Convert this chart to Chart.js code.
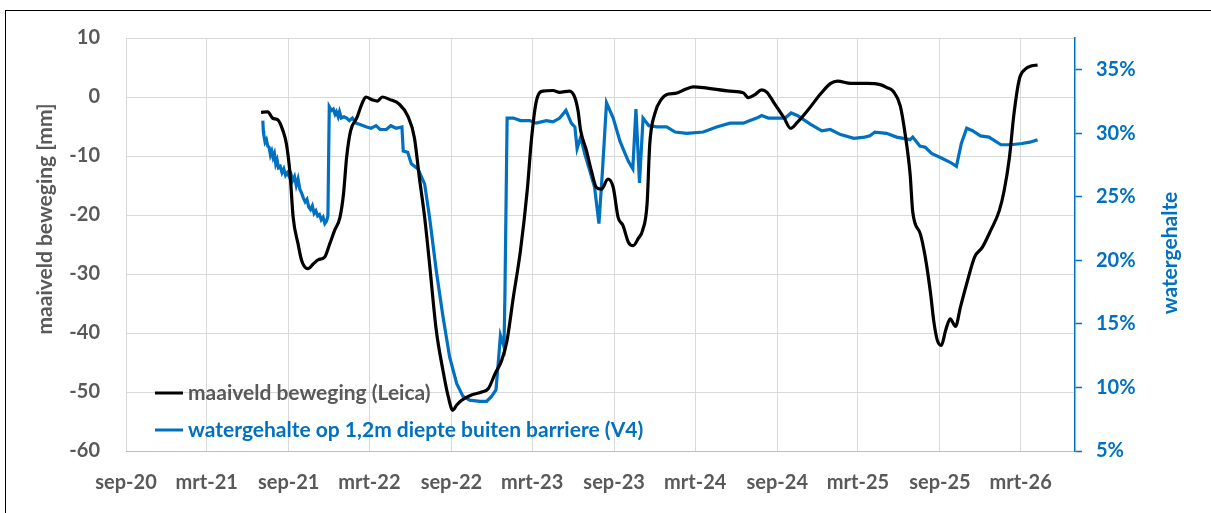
<!DOCTYPE html>
<html>
<head>
<meta charset="utf-8">
<script src="https://cdn.jsdelivr.net/npm/chart.js@4.4.1/dist/chart.umd.min.js"></script>
<style>
    html, body { margin: 0; padding: 0; background: #fff; }
    #wrap { position: relative; width: 1211px; height: 513px; }
</style>
</head>
<body>
<div id="wrap"><canvas id="chart"></canvas></div>
<script>
// x-axis ticks, every 6 months
const tickDates = ['2020-09-01', '2021-03-01', '2021-09-01', '2022-03-01', '2022-09-01', '2023-03-01',
    '2023-09-01', '2024-03-01', '2024-09-01', '2025-03-01', '2025-09-01', '2026-03-01'];
const tickLabels = ['sep-20', 'mrt-21', 'sep-21', 'mrt-22', 'sep-22', 'mrt-23',
    'sep-23', 'mrt-24', 'sep-24', 'mrt-25', 'sep-25', 'mrt-26'];

// maaiveld beweging (Leica) [mm]
const leicaDates = ['2021-07-01', '2021-07-16', '2021-07-27', '2021-08-08', '2021-08-19', '2021-08-27',
    '2021-09-04', '2021-09-11', '2021-09-22', '2021-09-30', '2021-10-14', '2021-10-26', '2021-11-06',
    '2021-11-21', '2021-12-02', '2021-12-13', '2021-12-25', '2022-01-02', '2022-01-09', '2022-01-18',
    '2022-02-01', '2022-02-12', '2022-02-21', '2022-03-08', '2022-03-19', '2022-03-30', '2022-04-15',
    '2022-05-07', '2022-05-26', '2022-06-10', '2022-06-21', '2022-07-03', '2022-07-14', '2022-07-29',
    '2022-08-13', '2022-08-25', '2022-09-04', '2022-09-13', '2022-09-24', '2022-10-16', '2022-11-08',
    '2022-11-23', '2022-12-08', '2022-12-23', '2023-01-04', '2023-01-18', '2023-02-03', '2023-02-18',
    '2023-02-28', '2023-03-10', '2023-03-25', '2023-04-17', '2023-05-02', '2023-05-24', '2023-06-05',
    '2023-06-12', '2023-06-18', '2023-07-01', '2023-07-12', '2023-07-23', '2023-08-04', '2023-08-18',
    '2023-08-30', '2023-09-10', '2023-09-21', '2023-10-03', '2023-10-14', '2023-10-25', '2023-11-04',
    '2023-11-14', '2023-11-20', '2023-12-01', '2023-12-16', '2024-01-01', '2024-01-16', '2024-02-08',
    '2024-02-26', '2024-03-19', '2024-05-18', '2024-06-17', '2024-06-28', '2024-07-13', '2024-07-28',
    '2024-08-09', '2024-08-24', '2024-09-16', '2024-10-01', '2024-10-16', '2024-11-08', '2024-12-07',
    '2024-12-30', '2025-01-14', '2025-02-13', '2025-03-21', '2025-04-20', '2025-05-05', '2025-05-20',
    '2025-06-04', '2025-06-15', '2025-06-26', '2025-07-02', '2025-07-19', '2025-07-30', '2025-08-11',
    '2025-08-18', '2025-08-26', '2025-09-04', '2025-09-14', '2025-09-24', '2025-10-06', '2025-10-17',
    '2025-11-02', '2025-11-18', '2025-12-05', '2025-12-24', '2026-01-12', '2026-01-23', '2026-02-04',
    '2026-02-14', '2026-02-26', '2026-03-11', '2026-03-26', '2026-04-08'];
const leicaValues = [-2.6, -2.5, -3.6, -3.9, -5.7, -8.0,
    -13.0, -20.4, -24.9, -27.7, -29.1, -28.3, -27.6,
    -27.1, -24.9, -22.6, -20.4, -16.4, -10.2, -5.7,
    -3.5, -1.2, 0.0, -0.5, -0.7, 0.0, -0.4,
    -1.2, -3.2, -6.9, -13.6, -20.4, -28.3, -39.5,
    -46.3, -50.8, -53.1, -52.2, -51.4, -50.5, -50.0,
    -49.4, -46.9, -44.6, -41.2, -33.9, -26.0, -15.9,
    -6.9, -0.9, 1.0, 1.1, 0.8, 1.0, -0.1,
    -2.3, -5.7, -9.1, -12.5, -15.3, -15.6, -13.9,
    -15.3, -20.4, -21.8, -24.6, -25.2, -24.0, -22.6,
    -18.1, -8.0, -2.9, -0.4, 0.5, 0.6, 1.3,
    1.7, 1.6, 1.0, 0.7, -0.1, 0.4, 1.2,
    0.8, -0.9, -3.5, -5.3, -4.3, -2.3, 0.5,
    2.3, 2.7, 2.3, 2.3, 2.1, 1.6, 0.9,
    -1.5, -6.3, -13.0, -19.5, -23.2, -27.1, -33.3,
    -37.9, -41.2, -42.1, -39.5, -37.6, -38.9, -35.6,
    -31.1, -27.1, -25.5, -22.6, -19.3, -15.9, -10.2,
    -2.9, 3.0, 4.7, 5.3, 5.4];

// watergehalte op 1,2m diepte buiten barriere (V4) [%]
const waterDates = ['2021-07-05', '2021-07-06', '2021-07-07', '2021-07-10', '2021-07-13', '2021-07-16',
    '2021-07-19', '2021-07-22', '2021-07-25', '2021-07-28', '2021-07-31', '2021-08-03', '2021-08-06',
    '2021-08-09', '2021-08-13', '2021-08-17', '2021-08-21', '2021-08-25', '2021-08-29', '2021-09-02',
    '2021-09-06', '2021-09-10', '2021-09-14', '2021-09-18', '2021-09-22', '2021-09-26', '2021-09-30',
    '2021-10-04', '2021-10-08', '2021-10-12', '2021-10-16', '2021-10-20', '2021-10-24', '2021-10-28',
    '2021-11-01', '2021-11-05', '2021-11-09', '2021-11-13', '2021-11-17', '2021-11-21', '2021-11-25',
    '2021-11-28', '2021-12-01', '2021-12-06', '2021-12-10', '2021-12-14', '2021-12-17', '2021-12-21',
    '2021-12-24', '2021-12-28', '2022-01-03', '2022-01-09', '2022-01-15', '2022-01-22', '2022-01-30',
    '2022-02-08', '2022-02-23', '2022-03-05', '2022-03-16', '2022-03-25', '2022-04-08', '2022-04-18',
    '2022-04-30', '2022-05-13', '2022-05-16', '2022-05-26', '2022-06-03', '2022-06-18', '2022-07-03',
    '2022-07-14', '2022-07-29', '2022-08-13', '2022-08-28', '2022-09-13', '2022-09-27', '2022-10-12',
    '2022-11-04', '2022-11-19', '2022-11-30', '2022-12-10', '2022-12-15', '2022-12-20', '2022-12-28',
    '2022-12-30', '2023-01-04', '2023-01-18', '2023-02-03', '2023-02-24', '2023-03-10', '2023-04-02',
    '2023-04-17', '2023-05-02', '2023-05-16', '2023-05-28', '2023-06-05', '2023-06-10', '2023-06-18',
    '2023-06-27', '2023-07-08', '2023-07-19', '2023-07-29', '2023-08-06', '2023-08-15', '2023-08-30',
    '2023-09-14', '2023-09-21', '2023-10-03', '2023-10-13', '2023-10-20', '2023-10-28', '2023-11-05',
    '2023-11-18', '2023-12-06', '2023-12-28', '2024-01-16', '2024-02-11', '2024-03-19', '2024-04-18',
    '2024-05-18', '2024-06-17', '2024-07-02', '2024-07-17', '2024-07-28', '2024-08-12', '2024-09-19',
    '2024-10-02', '2024-10-16', '2024-11-15', '2024-12-10', '2024-12-29', '2025-01-21', '2025-02-20',
    '2025-03-16', '2025-03-28', '2025-04-08', '2025-05-04', '2025-05-27', '2025-06-26', '2025-07-02',
    '2025-07-18', '2025-07-30', '2025-08-14', '2025-09-02', '2025-09-25', '2025-10-08', '2025-10-19',
    '2025-10-31', '2025-11-13', '2025-12-01', '2025-12-20', '2026-01-16', '2026-02-07', '2026-03-04',
    '2026-03-22', '2026-04-08'];
const waterValues = [31.0, 30.2, 29.9, 29.3, 29.5, 29.0,
    28.9, 28.3, 28.6, 28.1, 28.4, 27.6, 27.9,
    27.3, 27.4, 26.9, 27.2, 26.7, 26.9, 26.6,
    26.8, 26.3, 26.6, 25.9, 26.4, 25.6, 25.3,
    24.9, 24.6, 24.8, 24.2, 24.0, 24.3, 23.7,
    23.9, 23.5, 23.6, 23.2, 23.4, 22.9, 23.1,
    23.5, 32.1, 31.8, 31.9, 31.5, 31.7, 31.3,
    31.7, 31.2, 31.3, 31.2, 31.0, 31.2, 30.8,
    30.7, 30.5, 30.4, 30.6, 30.3, 30.3, 30.6,
    30.4, 30.5, 28.6, 28.5, 27.6, 27.2, 26.0,
    23.4, 19.2, 15.6, 12.4, 10.3, 9.3, 9.0,
    8.9, 8.9, 9.3, 9.8, 11.9, 14.1, 13.2,
    17.1, 31.2, 31.2, 31.0, 31.0, 30.8, 31.0,
    30.9, 31.2, 31.8, 30.8, 30.5, 28.8, 29.7,
    28.4, 27.1, 25.8, 22.9, 27.1, 32.4, 31.2,
    29.4, 28.8, 27.8, 27.2, 31.9, 26.1, 31.2,
    30.6, 30.5, 30.5, 30.1, 30.0, 30.1, 30.5,
    30.8, 30.8, 31.0, 31.2, 31.4, 31.2, 31.2,
    31.6, 31.4, 30.7, 30.2, 30.3, 29.9, 29.6,
    29.7, 29.8, 30.1, 30.0, 29.7, 29.5, 29.7,
    29.0, 28.9, 28.4, 28.1, 27.7, 27.4, 29.2,
    30.4, 30.2, 29.8, 29.7, 29.1, 29.1, 29.2,
    29.3, 29.5];

const dayNum = s => Date.parse(s) / 86400000;
const toPoints = (dates, values) => dates.map((d, i) => ({ x: dayNum(d), y: values[i] }));

const GRAY = '#595959';
const BLUE = '#0070c0';
const FONT = 'Lato, "Open Sans", sans-serif';

// frame around the whole picture, axis titles and legend inside the plot
const decorations = {
    id: 'decorations',
    beforeDraw(chart) {
        const ctx = chart.ctx;
        ctx.save();
        ctx.fillStyle = '#ffffff';
        ctx.fillRect(0, 0, chart.width, chart.height);
        ctx.strokeStyle = '#000000';
        ctx.lineWidth = 1;
        ctx.strokeRect(5.5, 10.5, chart.width + 20, chart.height + 20);
        ctx.restore();
    },
    afterDraw(chart) {
        const ctx = chart.ctx;
        const area = chart.chartArea;
        ctx.save();
        ctx.font = 'bold 21px ' + FONT;
        ctx.textAlign = 'center';
        ctx.textBaseline = 'middle';

        ctx.save();
        ctx.translate(45, 219);
        ctx.rotate(-Math.PI / 2);
        ctx.fillStyle = GRAY;
        ctx.fillText('maaiveld beweging [mm]', 0, 0);
        ctx.restore();

        ctx.save();
        ctx.translate(1170, 253);
        ctx.rotate(-Math.PI / 2);
        ctx.fillStyle = BLUE;
        ctx.fillText('watergehalte', 0, 0);
        ctx.restore();

        // legend
        ctx.font = 'bold 21px ' + FONT;
        ctx.textAlign = 'left';
        const x0 = area.left + 29;
        const rows = [area.bottom - 58, area.bottom - 21];
        const textColors = [GRAY, BLUE];
        chart.data.datasets.forEach((ds, i) => {
            ctx.strokeStyle = ds.borderColor;
            ctx.lineWidth = 3;
            ctx.beginPath();
            ctx.moveTo(x0, rows[i]);
            ctx.lineTo(x0 + 28, rows[i]);
            ctx.stroke();
            ctx.fillStyle = textColors[i];
            ctx.fillText(ds.label, x0 + 33, rows[i]);
        });
        ctx.restore();
    }
};

const tickFont = { family: FONT, size: 20, weight: 'bold' };

new Chart(document.getElementById('chart'), {
    type: 'line',
    data: {
        datasets: [
            {
                label: 'maaiveld beweging (Leica)',
                data: toPoints(leicaDates, leicaValues),
                yAxisID: 'y',
                borderColor: '#000000',
                borderWidth: 3.2,
                pointRadius: 0,
                cubicInterpolationMode: 'monotone',
                fill: false
            },
            {
                label: 'watergehalte op 1,2m diepte buiten barriere (V4)',
                data: toPoints(waterDates, waterValues),
                yAxisID: 'y1',
                borderColor: BLUE,
                borderWidth: 3.2,
                pointRadius: 0,
                tension: 0,
                fill: false
            }
        ]
    },
    options: {
        responsive: true,
        maintainAspectRatio: false,
        animation: false,
        layout: { padding: { top: 37, left: 0, right: 0, bottom: 0 } },
        plugins: {
            legend: { display: false },
            tooltip: { enabled: false }
        },
        scales: {
            x: {
                type: 'linear',
                min: dayNum('2020-09-01'),
                max: dayNum('2026-07-01'),
                afterBuildTicks: scale => {
                    scale.ticks = tickDates.map(d => ({ value: dayNum(d) }));
                },
                afterFit: scale => { scale.height = 62; },
                grid: { color: '#d9d9d9', drawTicks: false },
                border: { color: '#bfbfbf' },
                ticks: {
                    autoSkip: false,
                    maxRotation: 0,
                    padding: 20,
                    color: GRAY,
                    font: tickFont,
                    callback: (value, index) => tickLabels[index]
                }
            },
            y: {
                position: 'left',
                min: -60,
                max: 10,
                afterFit: scale => { scale.width = 126; },
                grid: { color: '#d9d9d9', drawTicks: false },
                border: { display: false },
                ticks: {
                    stepSize: 10,
                    padding: 26,
                    color: GRAY,
                    font: tickFont
                }
            },
            y1: {
                position: 'right',
                min: 5,
                max: 37.5,
                afterFit: scale => { scale.width = 136; },
                grid: { drawOnChartArea: false, tickLength: 7, tickColor: BLUE, tickWidth: 1.5 },
                border: { color: BLUE, width: 1.5 },
                ticks: {
                    stepSize: 5,
                    includeBounds: false,
                    padding: 14,
                    color: BLUE,
                    font: tickFont,
                    callback: value => value + '%'
                }
            }
        }
    },
    plugins: [decorations]
});
</script>
</body>
</html>
